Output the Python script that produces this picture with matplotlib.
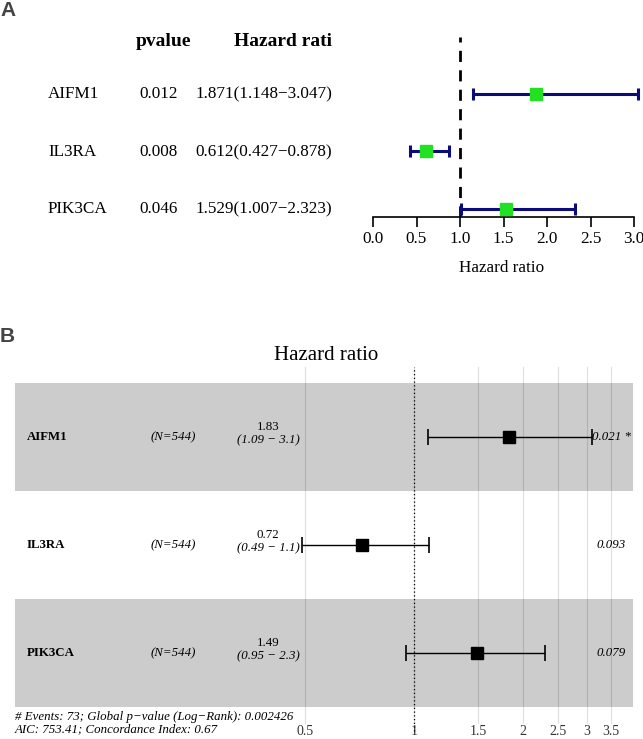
import matplotlib
matplotlib.use("Agg")
import matplotlib.pyplot as plt
import numpy as np

# panel A: univariate cox
genes_a = ["AIFM1", "IL3RA", "PIK3CA"]
pvals_a = ["0.012", "0.008", "0.046"]
hr_a = np.array([1.871, 0.612, 1.529])
lo_a = np.array([1.148, 0.427, 1.007])
hi_a = np.array([3.047, 0.878, 2.323])
ticks_a = [0.0, 0.5, 1.0, 1.5, 2.0, 2.5, 3.0]

# panel B: multivariate cox (ggforest style)
genes_b = ["AIFM1", "IL3RA", "PIK3CA"]
n_b = ["(N=544)", "(N=544)", "(N=544)"]
hr_b = np.array([1.83, 0.72, 1.49])
lo_b = np.array([1.09, 0.49, 0.95])
hi_b = np.array([3.1, 1.1, 2.3])
hr_txt_b = ["1.83", "0.72", "1.49"]
ci_txt_b = ["(1.09 \u2212 3.1)", "(0.49 \u2212 1.1)", "(0.95 \u2212 2.3)"]
p_txt_b = ["0.021 *", "0.093", "0.079"]
ticks_b = [0.5, 1, 1.5, 2, 2.5, 3, 3.5]
footer = ["# Events: 73; Global p\u2212value (Log\u2212Rank): 0.002426",
          "AIC: 753.41; Concordance Index: 0.67"]

W, H = 643, 739
fig = plt.figure(figsize=(W / 100, H / 100), dpi=100)
serif = "Liberation Serif"


def fx(x):
    return x / W


def fy(y):
    return 1 - y / H


def add_ax(x0, y0, x1, y1):
    return fig.add_axes([fx(x0), fy(y1), fx(x1) - fx(x0), (y1 - y0) / H])


# ---------- panel A ----------
fig.text(fx(0), fy(11), "A", fontsize=15, fontweight="bold", color="#444444",
         family="Liberation Sans", va="center", ha="left")

rows_a = [94, 152, 209]
fig.text(fx(163), fy(41), "pvalue", family=serif, fontsize=14, fontweight="bold",
         ha="center", va="center")
fig.text(fx(332), fy(41), "Hazard rati", family=serif, fontsize=14, fontweight="bold",
         ha="right", va="center")
for g, p, h, l, u, y in zip(genes_a, pvals_a, hr_a, lo_a, hi_a, rows_a):
    fig.text(fx(48), fy(y), g, family=serif, fontsize=12.3, ha="left", va="center")
    fig.text(fx(159), fy(y), p, family=serif, fontsize=12.3, ha="center", va="center")
    fig.text(fx(332), fy(y), "%.3f(%.3f\u2212%.3f)" % (h, l, u), family=serif,
             fontsize=12.3, ha="right", va="center")

axa = add_ax(373, 37, 634, 217)
ya = np.arange(3)
eb = axa.errorbar(hr_a, ya, xerr=[hr_a - lo_a, hi_a - hr_a], fmt="s", color="#22E022",
                  markersize=8, ecolor="#0B0B7A", elinewidth=2.2, capsize=4.5,
                  capthick=2.2, zorder=3)
for art in eb.lines[1] + eb.lines[2]:
    art.set_clip_on(False)
axa.axvline(1, color="black", ls=(0, (4, 3)), lw=2)
axa.set_xlim(0, 3)
axa.set_ylim(2.14, -0.99)
for s in ["top", "right", "left"]:
    axa.spines[s].set_visible(False)
axa.spines["bottom"].set_linewidth(1.2)
axa.set_yticks([])
axa.set_xticks(ticks_a)
axa.set_xticklabels(["%.1f" % t for t in ticks_a], family=serif, fontsize=12.3)
axa.tick_params(axis="x", length=7, width=1.2, pad=3)
axa.patch.set_alpha(0)
fig.text(fx(502), fy(268), "Hazard ratio", family=serif, fontsize=12.3,
         ha="center", va="center")

# ---------- panel B ----------
fig.text(fx(0), fy(337), "B", fontsize=15, fontweight="bold", color="#444444",
         family="Liberation Sans", va="center", ha="left")
fig.text(fx(326), fy(355), "Hazard ratio", family=serif, fontsize=15,
         ha="center", va="center")

axb = add_ax(15, 367, 633, 724)
yb = np.arange(3)
axb.set_xscale("log")
axb.set_xlim(0.0791, 4.02)
axb.set_ylim(2.657, -0.648)
for t in ticks_b:
    axb.axvline(t, color="#DEDEDE", lw=0.8, zorder=0)
for i in yb:
    if i % 2 == 0:
        axb.axhspan(i - 0.5, i + 0.5, color="black", alpha=0.2, lw=0, zorder=1)
axb.axvline(1, color="black", ls=(0, (1, 2)), lw=0.9, zorder=2, ymin=-0.02,
            clip_on=False)
axb.errorbar(hr_b, yb, xerr=[hr_b - lo_b, hi_b - hr_b], fmt="s", color="black",
             markersize=8, elinewidth=1, capsize=5.5, capthick=1.2, zorder=4)
for s in axb.spines.values():
    s.set_visible(False)
axb.set_yticks([])
axb.set_xticks(ticks_b)
axb.set_xticklabels([str(t) for t in ticks_b], family=serif, fontsize=10,
                    color="#333333")
axb.xaxis.set_minor_locator(matplotlib.ticker.NullLocator())
axb.tick_params(axis="x", length=0, pad=1)

rows_b = [437, 545, 653]
fs_b = 9.3
for g, n, h, c, p, y in zip(genes_b, n_b, hr_txt_b, ci_txt_b, p_txt_b, rows_b):
    fig.text(fx(27), fy(y), g, family=serif, fontsize=fs_b, fontweight="bold",
             ha="left", va="center", zorder=5)
    fig.text(fx(151), fy(y), n, family=serif, fontsize=fs_b, style="italic",
             ha="left", va="center", zorder=5)
    fig.text(fx(268), fy(y - 10), h, family=serif, fontsize=fs_b,
             ha="center", va="center", zorder=5)
    fig.text(fx(268), fy(y + 3), c, family=serif, fontsize=fs_b, style="italic",
             ha="center", va="center", zorder=5)
    fig.text(fx(611), fy(y), p, family=serif, fontsize=fs_b, style="italic",
             ha="center", va="center", zorder=5)

fig.text(fx(15), fy(717), footer[0], family=serif, fontsize=fs_b, style="italic",
         ha="left", va="center")
fig.text(fx(15), fy(729), footer[1], family=serif, fontsize=fs_b, style="italic",
         ha="left", va="center")

fig.savefig("out.png", dpi=100)
